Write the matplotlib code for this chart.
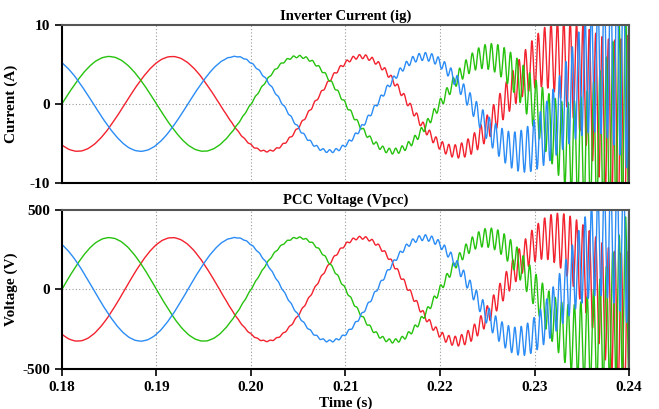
import numpy as np
import matplotlib
matplotlib.use("Agg")
import matplotlib.pyplot as plt

# --- values ---
t_start, t_end = 0.18, 0.24
f_grid = 50.0            # Hz, fundamental
i_peak = 6.0             # A
v_peak = 325.0           # V
f_ripple = 1480.0        # Hz, growing resonance

# envelope of the resonance (half peak-to-peak), read at these times
env_t = [0.195, 0.200, 0.205, 0.210, 0.215, 0.220, 0.225, 0.230, 0.235, 0.240]
env_i = [0.01, 0.08, 0.15, 0.22, 0.35, 0.6, 1.6, 3.2, 7.0, 14.0]
env_v = [0.5, 3.0, 5.0, 8.0, 12.0, 22.0, 60.0, 108.0, 250.0, 520.0]

phase_names = ["a", "b", "c"]
phase_shift_deg = [-120.0, 0.0, 120.0]
phase_colors = ["#f2222e", "#26c20e", "#2b8cf5"]

x_ticks = [0.18, 0.19, 0.20, 0.21, 0.22, 0.23, 0.24]
i_ticks = [-10, 0, 10]
v_ticks = [-500, 0, 500]

# --- build waveforms ---
t = np.linspace(t_start, t_end, 8000)
amp_i = np.exp(np.interp(t, env_t, np.log(env_i)))
amp_v = np.exp(np.interp(t, env_t, np.log(env_v)))


def wave(peak, ripple_amp, shift):
    ph = np.deg2rad(shift)
    base = peak * np.sin(2 * np.pi * f_grid * (t - t_start) + ph)
    rip = ripple_amp * np.sin(2 * np.pi * f_ripple * (t - t_start) + ph)
    return base + rip


plt.rcParams["font.family"] = ["Liberation Serif", "DejaVu Serif"]
plt.rcParams["font.weight"] = "bold"
plt.rcParams["axes.unicode_minus"] = False

fig = plt.figure(figsize=(6.59, 4.09), dpi=100)
ax1 = fig.add_axes([0.094, 0.553, 0.8605, 0.386])
ax2 = fig.add_axes([0.094, 0.098, 0.8605, 0.389])

for ax, peak, amp, ticks, title, ylabel in [
    (ax1, i_peak, amp_i, i_ticks, "Inverter Current (ig)", "Current (A)"),
    (ax2, v_peak, amp_v, v_ticks, "PCC Voltage (Vpcc)", "Voltage (V)"),
]:
    for shift, col in zip(phase_shift_deg, phase_colors):
        ax.plot(t, wave(peak, amp, shift), color=col, lw=1.0)
    ax.set_xlim(t_start, t_end)
    ax.set_ylim(ticks[0], ticks[-1])
    ax.set_yticks(ticks)
    ax.set_xticks(x_ticks)
    for x in x_ticks[1:-1]:
        ax.axvline(x, color="#999999", lw=0.8, ls=(0, (1, 2)), zorder=0)
    ax.axhline(0, color="#999999", lw=0.8, ls=(0, (1, 2)), zorder=0)
    ax.set_title(title, fontsize=10.5, fontweight="bold", pad=4)
    ax.set_ylabel(ylabel, fontsize=11, fontweight="bold")
    ax.yaxis.set_label_coords(-0.078, 0.5)
    for side in ["left", "bottom"]:
        ax.spines[side].set_linewidth(1.5)
        ax.spines[side].set_color("black")
    for side in ["top", "right"]:
        ax.spines[side].set_linewidth(1.5)
        ax.spines[side].set_color("#555555")
    ax.tick_params(axis="y", direction="out", length=5, width=1.2, labelsize=11)
    ax.tick_params(axis="x", direction="out", length=5, width=1.2, labelsize=11)

ax1.tick_params(axis="x", length=0, labelbottom=False)
ax2.set_xticklabels([f"{x:.2f}" for x in x_ticks])
ax2.set_xlabel("Time (s)", fontsize=11, fontweight="bold", labelpad=2)

fig.savefig("out.png", dpi=100)
